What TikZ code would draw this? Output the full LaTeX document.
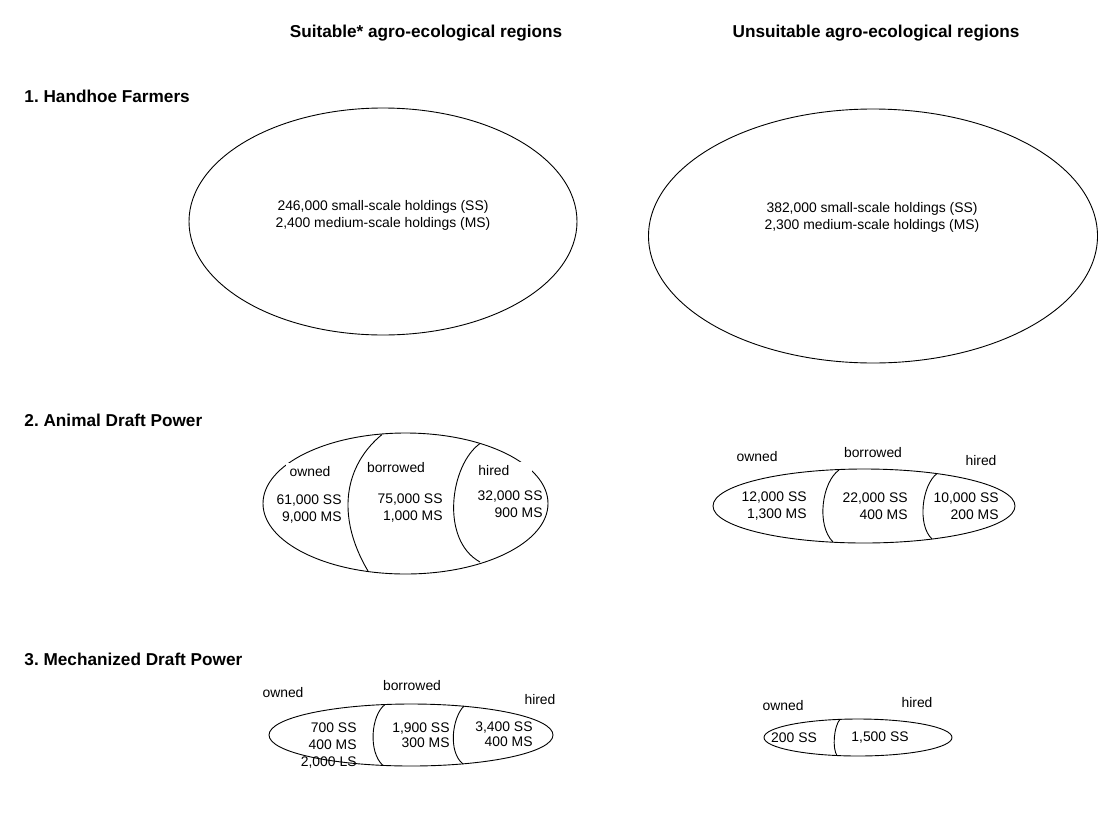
\documentclass[tikz,border=0pt]{standalone}
\usepackage{fontspec}
\setmainfont{Liberation Sans}
\usetikzlibrary{shapes.geometric}
\frenchspacing

\begin{document}
\begin{tikzpicture}[x=1pt, y=-1pt, line width=0.9pt]
    \tikzstyle{head} = [font=\fontsize{17.2}{20}\selectfont\bfseries, inner sep=0pt]
    \tikzstyle{region} = [draw, ellipse, inner sep=0pt]
    \tikzstyle{tag} = [font=\fontsize{13.9}{17}\selectfont, fill=white, inner sep=4pt]
    \tikzstyle{figs} = [font=\fontsize{13.9}{17}\selectfont, align=right, inner sep=0pt, anchor=east]
    \tikzstyle{tight} = [font=\fontsize{13.9}{15}\selectfont]

    \useasboundingbox (0,0) rectangle (1099,814);

    % column titles and row headings
    \node [head] (tSuit) at (426,33) {Suitable* agro-ecological regions};
    \node [head] (tUnsuit) at (876,33) {Unsuitable agro-ecological regions};
    \node [head, anchor=west] (hHoe) at (24,96) {1. Handhoe Farmers};
    \node [head, anchor=west] (hAnimal) at (24,420) {2. Animal Draft Power};
    \node [head, anchor=west] (hMech) at (24,659) {3. Mechanized Draft Power};

    % 1. handhoe
    \node [region, minimum width=388, minimum height=227] (hoeS) at (383,221.5) {};
    \node [region, minimum width=449, minimum height=254] (hoeU) at (873,236) {};
    \node [figs, anchor=center, align=center] (hoeSn) at (383,215) {246,000 small-scale holdings (SS)\\2,400 medium-scale holdings (MS)};
    \node [figs, anchor=center, align=center] (hoeUn) at (872,217) {382,000 small-scale holdings (SS)\\2,300 medium-scale holdings (MS)};

    % 2. animal draft power
    \node [region, minimum width=285, minimum height=141] (adpS) at (405.5,503.5) {};
    \node [region, minimum width=302, minimum height=74] (adpU) at (864,506) {};
    \node [tag] (adpSown) at (310,472) {owned};
    \node [tag] (adpSbor) at (396,468) {borrowed};
    \node [tag, anchor=west, text width=50] (adpShir) at (474,471) {hired};
    \node [tag] (adpUown) at (757,457) {owned};
    \node [tag] (adpUbor) at (873,453) {borrowed};
    \node [tag] (adpUhir) at (981,461) {hired};
    \node [figs] (adpS1) at (342,509.5) {61,000 SS\\9,000 MS};
    \node [figs] (adpS2) at (443,508) {75,000 SS\\1,000 MS};
    \node [figs] (adpS3) at (543,504.5) {32,000 SS\\900 MS};
    \node [figs] (adpU1) at (807,506.5) {12,000 SS\\1,300 MS};
    \node [figs] (adpU2) at (908,506.5) {22,000 SS\\400 MS};
    \node [figs] (adpU3) at (999,506.5) {10,000 SS\\200 MS};
    \draw (382,434.5) .. controls (345,465) and (335,515) .. (368,571);
    \draw (480,443.5) .. controls (450,465) and (440,540) .. (480,562);
    \draw (839,470) .. controls (822,482) and (816,525) .. (833,542);
    \draw (937,473.5) .. controls (922,485) and (917,525) .. (932,539);

    % 3. mechanized draft power
    \node [region, minimum width=284, minimum height=62] (mdpS) at (411,735) {};
    \node [region, minimum width=188, minimum height=37] (mdpU) at (858,737.5) {};
    \node [tag] (mdpSown) at (283,693) {owned};
    \node [tag] (mdpSbor) at (412,686) {borrowed};
    \node [tag] (mdpShir) at (540,700) {hired};
    \node [tag] (mdpUown) at (783,706) {owned};
    \node [tag] (mdpUhir) at (917,703) {hired};
    \node [figs] (mdpS1) at (357,746) {700 SS\\400 MS\\2,000 LS};
    \node [figs, tight] (mdpS2) at (450,735) {1,900 SS\\300 MS};
    \node [figs, tight] (mdpS3) at (533,734) {3,400 SS\\400 MS};
    \node [figs, anchor=center] (mdpU1) at (794,738) {200 SS};
    \node [figs, anchor=center] (mdpU2) at (880,738) {1,500 SS};
    \draw (385,704.5) .. controls (371,715) and (368,752) .. (383,765.5);
    \draw (464,706) .. controls (452,718) and (448,752) .. (463,764);
    \draw (840,719.3) .. controls (834,726) and (832,748) .. (837,755.7);
\end{tikzpicture}
\end{document}
